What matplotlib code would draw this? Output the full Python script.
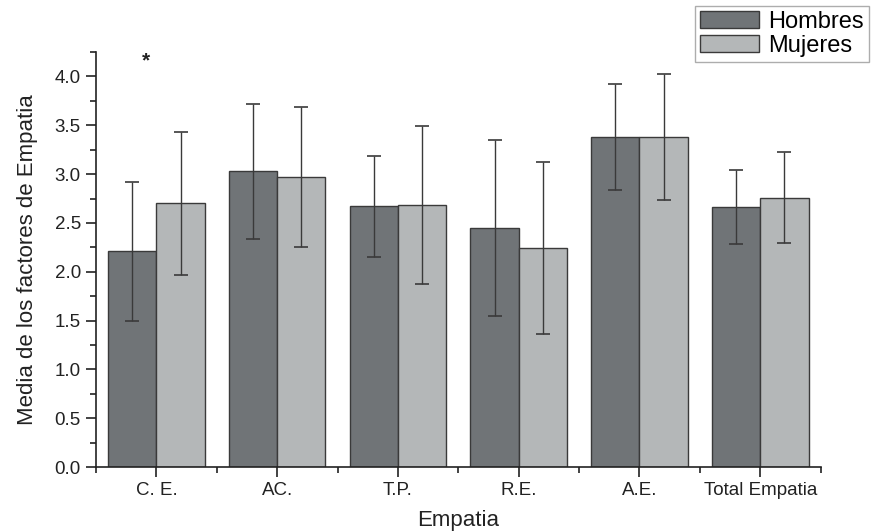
import matplotlib
matplotlib.use("Agg")
import matplotlib.pyplot as plt
import numpy as np
from matplotlib.ticker import MultipleLocator, FixedLocator, FormatStrFormatter

plt.rcParams['font.family'] = ['Liberation Sans', 'DejaVu Sans']

categories = ["C. E.", "AC.", "T.P.", "R.E.", "A.E.", "Total Empatia"]
hombres = [2.21, 3.03, 2.67, 2.45, 3.38, 2.66]
hombres_sd = [0.71, 0.69, 0.52, 0.90, 0.54, 0.38]
mujeres = [2.70, 2.97, 2.68, 2.24, 3.38, 2.76]
mujeres_sd = [0.73, 0.72, 0.81, 0.88, 0.65, 0.47]
series_labels = ["Hombres", "Mujeres"]

fig = plt.figure(figsize=(8.73, 5.31), dpi=100)
ax = fig.add_axes([0.110, 0.1205, 0.830, 0.7815])

x = np.arange(len(categories))
w = 0.4
ekw = dict(ecolor="#3a3a3a", elinewidth=1.0, capsize=5, capthick=1.2)
b1 = ax.bar(x - w/2, hombres, w, yerr=hombres_sd, color="#707477", edgecolor="#3a3a3a",
            linewidth=1.0, label=series_labels[0], error_kw=ekw)
b2 = ax.bar(x + w/2, mujeres, w, yerr=mujeres_sd, color="#b4b7b8", edgecolor="#3a3a3a",
            linewidth=1.0, label=series_labels[1], error_kw=ekw)

ax.text(-0.09, 4.16, "*", ha="center", va="center", fontsize=15, fontweight="bold",
        color="#222222")

ax.set_xlim(-0.5, 5.5)
ax.set_ylim(0, 4.25)
ax.set_xticks(x)
ax.set_xticklabels(categories)
ax.xaxis.set_minor_locator(FixedLocator(np.arange(-0.5, 5.6, 1.0)))
ax.yaxis.set_major_locator(MultipleLocator(0.5))
ax.yaxis.set_minor_locator(MultipleLocator(0.25))
ax.yaxis.set_major_formatter(FormatStrFormatter("%.1f"))
ax.tick_params(axis="both", which="major", labelsize=13.5, direction="out", length=7,
               width=1.2, colors="#222222", pad=4)
ax.tick_params(which="minor", direction="out", length=4, width=1.2, colors="#222222")
for s in ["top", "right"]:
    ax.spines[s].set_visible(False)
for s in ["left", "bottom"]:
    ax.spines[s].set_linewidth(1.2)
    ax.spines[s].set_color("#222222")

ax.set_xlabel("Empatia", fontsize=16, labelpad=8, color="#222222")
ax.set_ylabel("Media de los factores de Empatia", fontsize=16, labelpad=12, color="#222222")

leg = fig.legend(handles=[b1, b2], labels=series_labels, loc="upper right",
                 bbox_to_anchor=(0.995, 0.988), fontsize=17, frameon=True, fancybox=False,
                 handlelength=2.5, handleheight=0.72, borderpad=0.2, labelspacing=0.08,
                 handletextpad=0.4, borderaxespad=0.0)
leg.get_frame().set_edgecolor("#999999")
leg.get_frame().set_linewidth(1.0)

fig.savefig("out.png", dpi=100)
